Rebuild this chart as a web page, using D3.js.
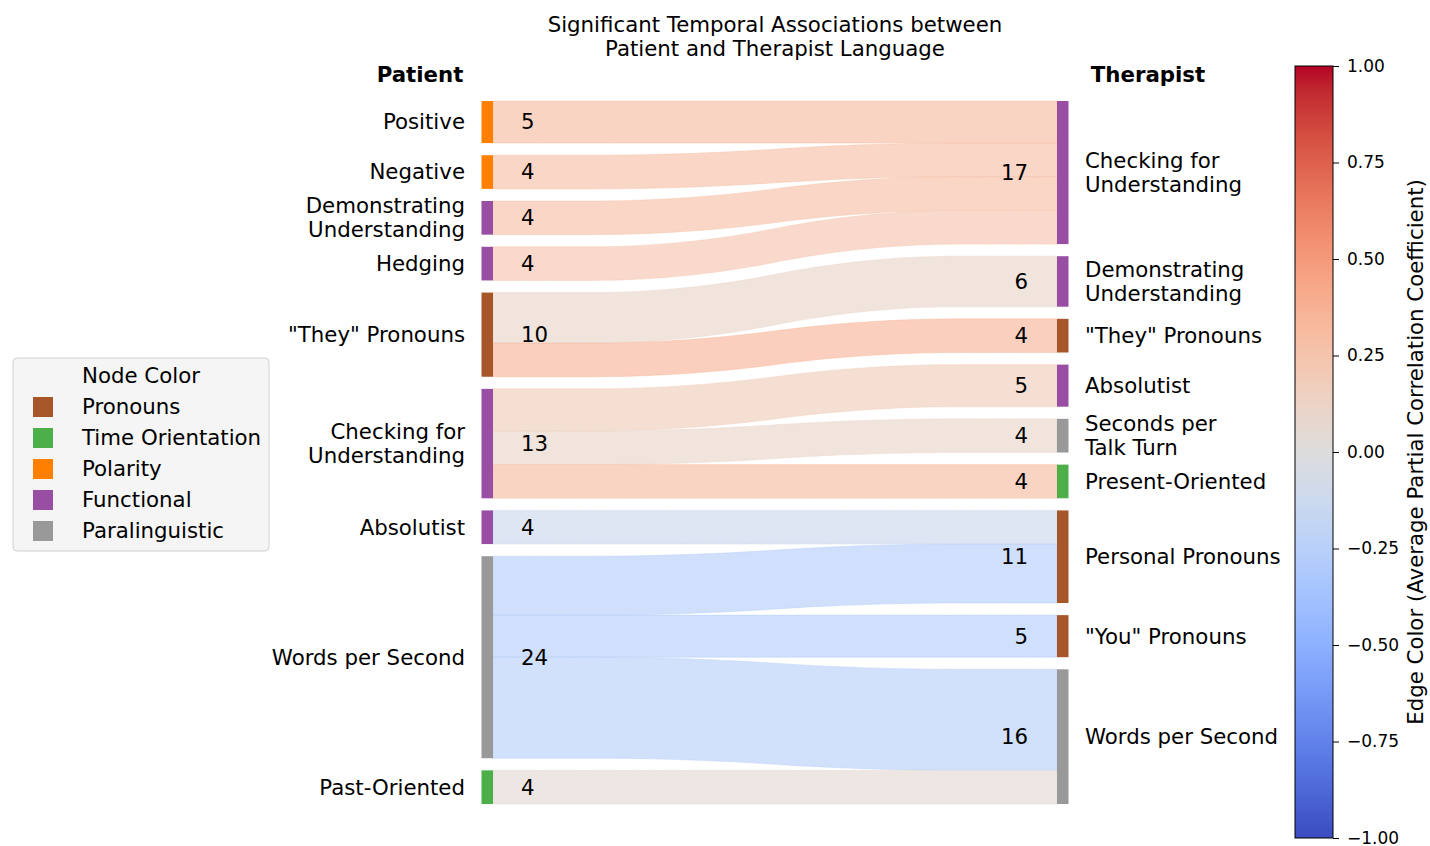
<!DOCTYPE html>
<html>
<head>
<meta charset="utf-8">
<script src="https://cdn.jsdelivr.net/npm/d3@7"></script>
<style>
  body { margin: 0; background: #fff; }
  svg { font-family: "DejaVu Sans", sans-serif; }
</style>
</head>
<body>
<svg id="chart"></svg>
<script>
// node names (left = patient, right = therapist)
const leftNodes = ["Positive", "Negative", "Demonstrating\nUnderstanding", "Hedging", "\"They\" Pronouns",
  "Checking for\nUnderstanding", "Absolutist", "Words per Second", "Past-Oriented"];
const leftGroups = ["Polarity", "Polarity", "Functional", "Functional", "Pronouns",
  "Functional", "Functional", "Paralinguistic", "Time Orientation"];
const rightNodes = ["Checking for\nUnderstanding", "Demonstrating\nUnderstanding", "\"They\" Pronouns", "Absolutist",
  "Seconds per\nTalk Turn", "Present-Oriented", "Personal Pronouns", "\"You\" Pronouns", "Words per Second"];
const rightGroups = ["Functional", "Functional", "Pronouns", "Functional",
  "Paralinguistic", "Time Orientation", "Pronouns", "Pronouns", "Paralinguistic"];

// links: source index (left), target index (right), count, mean partial correlation
const linkSource = [0, 1, 2, 3, 4, 4, 5, 5, 5, 6, 7, 7, 7, 8];
const linkTarget = [0, 0, 0, 0, 1, 2, 3, 4, 5, 6, 6, 7, 8, 8];
const linkValue  = [5, 4, 4, 4, 6, 4, 5, 4, 4, 4, 7, 5, 12, 4];
const linkCorr   = [0.30, 0.28, 0.28, 0.24, 0.10, 0.35, 0.18, 0.10, 0.30, -0.12, -0.27, -0.27, -0.25, 0.05];

const groupNames = ["Pronouns", "Time Orientation", "Polarity", "Functional", "Paralinguistic"];
const groupColors = ["#a65628", "#4daf4a", "#ff7f00", "#984ea3", "#999999"];

const colorbarTicks = [-1, -0.75, -0.5, -0.25, 0, 0.25, 0.5, 0.75, 1];

// matplotlib coolwarm
const coolwarmStops = [
  [59,76,192],[68,90,204],[77,104,215],[87,117,225],[98,130,234],[108,142,241],[119,154,247],[130,165,251],
  [141,176,254],[152,185,255],[163,194,255],[174,201,253],[184,208,249],[194,213,244],[204,217,238],[213,219,230],
  [221,221,221],[229,216,209],[236,211,197],[241,204,185],[245,196,173],[247,187,160],[247,177,148],[247,166,135],
  [244,154,123],[241,141,111],[236,127,99],[229,112,88],[222,96,77],[213,80,66],[203,62,56],[192,40,47],[180,4,38]
].map(c => d3.rgb(c[0], c[1], c[2]).toString());
const coolwarm = d3.scaleLinear()
  .domain(d3.range(coolwarmStops.length).map(i => -1 + 2 * i / (coolwarmStops.length - 1)))
  .range(coolwarmStops)
  .interpolate(d3.interpolateRgb);

const width = 1430, height = 846;
const fontSize = 21.3;
const svg = d3.select("#chart").attr("width", width).attr("height", height);

const xL = 493, xR = 1057, barW = 11.5;
const total = d3.sum(linkValue);
const gap = 0.02 * total;
const y = d3.scaleLinear().domain([0, total + gap * (leftNodes.length - 1)]).range([101, 804]);

function layout(values) {
  let pos = 0;
  return values.map(v => { const n = { y0: pos, y1: pos + v }; pos += v + gap; return n; });
}
const leftTotals = leftNodes.map((_, i) => d3.sum(linkValue.filter((v, j) => linkSource[j] === i)));
const rightTotals = rightNodes.map((_, i) => d3.sum(linkValue.filter((v, j) => linkTarget[j] === i)));
const leftPos = layout(leftTotals);
const rightPos = layout(rightTotals);

// stack links inside nodes
const lOff = leftPos.map(d => d.y0), rOff = rightPos.map(d => d.y0);
const links = linkValue.map((v, i) => {
  const s = linkSource[i], t = linkTarget[i];
  const l = { ly0: lOff[s], ly1: lOff[s] + v, ry0: rOff[t], ry1: rOff[t] + v, corr: linkCorr[i] };
  lOff[s] += v; rOff[t] += v;
  return l;
});

// smoothed step curve (box filter twice)
function smooth(a, b) {
  let arr = d3.range(100).map(i => i < 50 ? a : b);
  for (let k = 0; k < 2; k++) {
    const out = [];
    for (let i = 0; i + 20 <= arr.length; i++) out.push(d3.sum(arr.slice(i, i + 20)) * 0.05);
    arr = out;
  }
  return arr;
}
const area = d3.area().x(d => d.x).y0(d => y(d.top)).y1(d => y(d.bot));

links.forEach(l => {
  const tops = smooth(l.ly0, l.ry0), bots = smooth(l.ly1, l.ry1);
  const pts = tops.map((t, i) => ({ x: xL + (xR - xL) * i / (tops.length - 1), top: t, bot: bots[i] }));
  const c = coolwarm(l.corr);
  svg.append("path").attr("d", area(pts))
    .attr("fill", c).attr("fill-opacity", 0.65)
    .attr("stroke", c).attr("stroke-opacity", 0.4).attr("stroke-width", 1);
});

const groupColor = g => groupColors[groupNames.indexOf(g)];

function multiline(sel, text, lineH) {
  const lines = text.split("\n");
  lines.forEach((t, i) => {
    sel.append("tspan").attr("x", sel.attr("x"))
      .attr("dy", i === 0 ? `${-(lines.length - 1) * lineH / 2 + 0.35 * fontSize}px` : `${lineH}px`)
      .text(t);
  });
}

// left nodes
leftNodes.forEach((name, i) => {
  const p = leftPos[i], yc = (y(p.y0) + y(p.y1)) / 2;
  svg.append("rect").attr("x", xL - barW).attr("y", y(p.y0)).attr("width", barW)
    .attr("height", y(p.y1) - y(p.y0)).attr("fill", groupColor(leftGroups[i]));
  const t = svg.append("text").attr("x", 465).attr("y", yc).attr("text-anchor", "end")
    .attr("font-size", fontSize).attr("fill", "#000");
  multiline(t, name, 24);
  svg.append("text").attr("x", 521).attr("y", yc).attr("dy", "0.35em")
    .attr("font-size", fontSize).text(leftTotals[i]);
});

// right nodes
rightNodes.forEach((name, i) => {
  const p = rightPos[i], yc = (y(p.y0) + y(p.y1)) / 2;
  svg.append("rect").attr("x", xR).attr("y", y(p.y0)).attr("width", barW)
    .attr("height", y(p.y1) - y(p.y0)).attr("fill", groupColor(rightGroups[i]));
  const t = svg.append("text").attr("x", 1085).attr("y", yc).attr("text-anchor", "start")
    .attr("font-size", fontSize).attr("fill", "#000");
  multiline(t, name, 24);
  svg.append("text").attr("x", 1028).attr("y", yc).attr("dy", "0.35em").attr("text-anchor", "end")
    .attr("font-size", fontSize).text(rightTotals[i]);
});

// titles
const title = svg.append("text").attr("x", 775).attr("y", 37).attr("text-anchor", "middle").attr("font-size", fontSize);
multiline(title, "Significant Temporal Associations between\nPatient and Therapist Language", 24);
svg.append("text").attr("x", 420).attr("y", 75).attr("dy", "0.35em").attr("text-anchor", "middle")
  .attr("font-size", fontSize).attr("font-weight", "bold").text("Patient");
svg.append("text").attr("x", 1148).attr("y", 75).attr("dy", "0.35em").attr("text-anchor", "middle")
  .attr("font-size", fontSize).attr("font-weight", "bold").text("Therapist");

// legend
const lg = svg.append("g").attr("transform", "translate(13,358)");
lg.append("rect").attr("width", 256).attr("height", 193).attr("rx", 4)
  .attr("fill", "#f5f5f5").attr("stroke", "#d0d0d0");
lg.append("text").attr("x", 69).attr("y", 18).attr("dy", "0.35em").attr("font-size", fontSize).text("Node Color");
groupNames.forEach((g, i) => {
  const yy = 49 + i * 31;
  lg.append("rect").attr("x", 20).attr("y", yy - 10).attr("width", 20).attr("height", 20).attr("fill", groupColors[i]);
  lg.append("text").attr("x", 69).attr("y", yy).attr("dy", "0.35em").attr("font-size", fontSize).text(g);
});

// colorbar
const cbX = 1295, cbW = 38;
const cbScale = d3.scaleLinear().domain([-1, 1]).range([838, 66]);
const grad = svg.append("defs").append("linearGradient").attr("id", "cw")
  .attr("x1", 0).attr("y1", 1).attr("x2", 0).attr("y2", 0);
coolwarmStops.forEach((c, i) => grad.append("stop").attr("offset", i / (coolwarmStops.length - 1)).attr("stop-color", c));
svg.append("rect").attr("x", cbX).attr("y", 66).attr("width", cbW).attr("height", 772)
  .attr("fill", "url(#cw)").attr("stroke", "#000").attr("stroke-width", 1);
const axis = svg.append("g").attr("transform", `translate(${cbX + cbW},0)`)
  .call(d3.axisRight(cbScale).tickValues(colorbarTicks).tickFormat(d3.format(".2f")).tickSize(6).tickPadding(8));
axis.select(".domain").remove();
axis.selectAll("text").attr("font-size", 17).attr("font-family", "DejaVu Sans").attr("fill", "#000");
axis.selectAll("line").attr("stroke", "#000");
svg.append("text").attr("transform", "translate(1416,452) rotate(-90)").attr("text-anchor", "middle")
  .attr("dy", "0.35em").attr("font-size", fontSize).text("Edge Color (Average Partial Correlation Coefficient)");
</script>
</body>
</html>
